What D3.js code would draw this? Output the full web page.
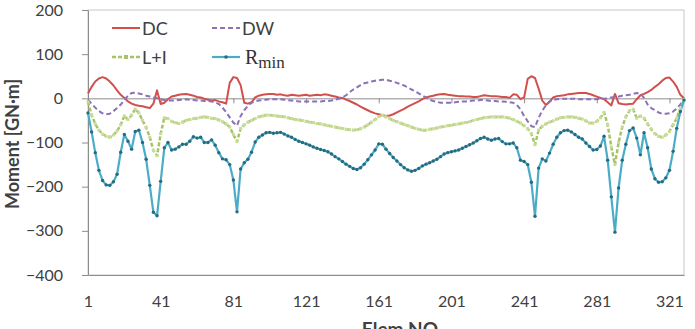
<!DOCTYPE html>
<html>
<head>
<meta charset="utf-8">
<script src="https://cdn.jsdelivr.net/npm/d3@7"></script>
<style>
    body { margin: 0; background: #fff; }
    svg text { font-family: Lato, "Open Sans", sans-serif; fill: #404040; }
</style>
</head>
<body>
<div id="chart"></div>
<script>
// element numbers (every second element is plotted)
var elemNo = d3.range(1, 330, 2);
var xTicks = [1, 41, 81, 121, 161, 201, 241, 281, 321];
var yTicks = [-400, -300, -200, -100, 0, 100, 200];

// moments [GN·m]
var dc = [
    11, 26, 38, 45, 48, 45, 38, 29, 18, 8,
    1, -7, -12, -15, -17, -18, -20, -22, -12, 18,
    -13, -10, -2, 4, 6, 8, 9, 10, 8, 6,
    3, 2, -1, -3, -5, -4, -7, -9, -12, 35,
    48, 46, 30, -10, -12, -9, 2, 6, 8, 9,
    10, 10, 8, 9, 7, 6, 8, 7, 6, 7,
    8, 6, 7, 8, 7, 9, 8, 6, 4, 2,
    1, -3, -6, -10, -14, -19, -23, -27, -31, -34,
    -36, -38, -40, -39, -36, -32, -28, -24, -19, -15,
    -11, -7, -2, 2, 4, 6, 8, 9, 10, 8,
    7, 6, 5, 5, 4, 4, 3, 3, 5, 7,
    6, 5, 5, 4, 3, 3, 1, 9, 8, -2,
    2, 44, 50, 46, 22, -5, -15, -8, 2, 5,
    6, 7, 9, 10, 11, 12, 12, 12, 10, 7,
    4, 1, -2, -9, -16, 10, -11, -13, -14, -13,
    -12, -2, 7, 10, 14, 19, 26, 32, 40, 46,
    47, 38, 26, 8, 0
];

var dw = [
    -3, -12, -21, -29, -34, -36, -35, -29, -22, -14,
    -4, 6, 12, 13, 11, 9, 6, 4, 2, 0,
    -2, -4, -5, -5, -5, -4, -3, -2, -3, -4,
    -5, -5, -6, -6, -7, -9, -13, -21, -31, -43,
    -55, -62, -40, -27, -17, -10, -7, -5, -4, -3,
    -2, -2, -2, -2, -3, -4, -5, -6, -7, -7,
    -7, -7, -7, -7, -7, -6, -6, -5, -3, -1,
    2, 7, 14, 20, 25, 30, 34, 36, 38, 40,
    41, 42, 42, 40, 38, 35, 32, 29, 25, 20,
    16, 11, 6, 2, -3, -6, -8, -10, -10, -10,
    -10, -9, -8, -7, -7, -6, -5, -5, -4, -4,
    -5, -6, -6, -7, -7, -8, -9, -10, -15, -25,
    -40, -52, -63, -65, -44, -28, -16, -7, -4, -2,
    -1, -1, -1, -1, -1, -2, -2, -2, -2, -2,
    -2, -1, -1, 0, 2, 3, 4, 6, 7, 8,
    10, 12, 11, 1, -14, -22, -27, -32, -35, -35,
    -34, -30, -23, -14, -2
];

var li = [
    -8, -38, -58, -72, -81, -86, -88, -83, -74, -60,
    -40, -48, -38, -24, -33, -50, -66, -88, -118, -130,
    -80, -44, -46, -52, -55, -57, -54, -50, -48, -46,
    -45, -43, -42, -43, -45, -46, -49, -53, -58, -65,
    -82, -98, -68, -60, -54, -50, -46, -42, -40, -38,
    -38, -39, -40, -41, -42, -44, -46, -48, -49, -50,
    -52, -54, -55, -57, -58, -60, -62, -63, -65, -67,
    -68, -70, -71, -72, -71, -69, -65, -60, -54, -48,
    -41, -38, -42, -46, -50, -53, -56, -59, -62, -65,
    -68, -70, -72, -72, -70, -69, -67, -65, -64, -62,
    -61, -59, -58, -56, -55, -53, -50, -48, -46, -44,
    -43, -42, -42, -42, -42, -43, -45, -48, -52, -56,
    -62, -69, -80, -105, -72, -63, -58, -54, -51, -47,
    -44, -43, -42, -42, -43, -45, -47, -51, -56, -56,
    -52, -44, -32, -60, -110, -150, -100, -65, -42, -28,
    -25, -45, -40, -45, -58, -70, -80, -86, -88, -83,
    -75, -60, -45, -22, -3
];

var rmin = [
    -33, -76, -123, -163, -186, -196, -197, -189, -172, -122,
    -82, -97, -115, -75, -72, -100, -138, -197, -258, -266,
    -188, -112, -100, -117, -115, -110, -104, -104, -97, -87,
    -90, -88, -100, -100, -94, -106, -123, -137, -139, -150,
    -185, -257, -160, -146, -138, -122, -99, -88, -83, -78,
    -77, -79, -78, -77, -81, -85, -88, -93, -97, -100,
    -103, -106, -110, -113, -116, -118, -121, -126, -132, -137,
    -143, -149, -154, -159, -161, -157, -149, -139, -128, -117,
    -103, -104, -115, -125, -134, -142, -150, -157, -162, -165,
    -163, -159, -153, -149, -146, -142, -138, -132, -126, -123,
    -121, -119, -117, -113, -109, -105, -101, -96, -91, -88,
    -92, -95, -92, -91, -98, -103, -103, -101, -112, -140,
    -143, -150, -190, -267, -158, -137, -142, -124, -104, -88,
    -78, -73, -72, -76, -82, -88, -92, -101, -109, -117,
    -116, -108, -86, -140, -223, -303, -203, -140, -104, -73,
    -67, -90, -128, -78, -112, -160, -182, -190, -189, -180,
    -163, -120, -68, -30, -4
];

var svg = d3.select('#chart').append('svg')
    .attr('width', 695)
    .attr('height', 329);

var x = d3.scaleLinear().domain([1, 329]).range([88, 684]);
var y = d3.scaleLinear().domain([-400, 200]).range([275, 10]);

// plot area border
svg.append('rect')
    .attr('x', x(1)).attr('y', y(200))
    .attr('width', x(329) - x(1)).attr('height', y(-400) - y(200))
    .attr('fill', 'none')
    .attr('stroke', '#c8c8c8');

// y axis
var yAxis = svg.append('g')
    .attr('transform', 'translate(' + x(1) + ',0)')
    .call(d3.axisLeft(y).tickValues(yTicks).tickSize(6).tickSizeOuter(0).tickPadding(19));
yAxis.selectAll('text').style('font-size', '16px');

// category labels along the bottom
var xLab = svg.append('g')
    .attr('transform', 'translate(0,' + y(-400) + ')')
    .call(d3.axisBottom(x).tickValues(xTicks).tickSize(0).tickPadding(21));
xLab.selectAll('text').style('font-size', '16px');

// axis line through zero with tick marks
svg.append('g')
    .attr('transform', 'translate(0,' + y(0) + ')')
    .call(d3.axisBottom(x).tickValues(xTicks).tickSize(5).tickSizeOuter(0).tickFormat(''));

svg.selectAll('.domain, .tick line').attr('stroke', '#8c8c8c');

// axis titles
svg.append('text')
    .attr('transform', 'translate(19,144) rotate(-90)')
    .attr('text-anchor', 'middle')
    .style('font-size', '18px')
    .style('font-weight', 'bold')
    .text('Moment [GN·m]');

svg.append('text')
    .attr('x', 402).attr('y', 336)
    .attr('text-anchor', 'middle')
    .style('font-size', '19px')
    .style('font-weight', 'bold')
    .text('Elem NO.');

var line = d3.line()
    .x(function(d, i) { return x(elemNo[i]); })
    .y(function(d) { return y(d); });

var series = [
    { name: 'DC', values: dc, color: '#d24f4c', dash: null, width: 2 },
    { name: 'DW', values: dw, color: '#8a72b6', dash: '5,3', width: 2 },
    { name: 'L+I', values: li, color: '#a6c466', dash: '4,2', width: 2.5 },
    { name: 'Rmin', values: rmin, color: '#4bacc6', dash: null, width: 2.2 }
];

series.forEach(function(s) {
    svg.append('path')
        .datum(s.values)
        .attr('fill', 'none')
        .attr('stroke', s.color)
        .attr('stroke-width', s.width)
        .attr('stroke-dasharray', s.dash)
        .attr('stroke-linejoin', 'round')
        .attr('d', line);
});

// markers
svg.append('g').selectAll('rect')
    .data(li)
    .enter().append('rect')
    .attr('x', function(d, i) { return x(elemNo[i]) - 1.5; })
    .attr('y', function(d) { return y(d) - 1.5; })
    .attr('width', 3).attr('height', 3)
    .attr('fill', '#c9dc9a');

svg.append('g').selectAll('circle')
    .data(rmin)
    .enter().append('circle')
    .attr('cx', function(d, i) { return x(elemNo[i]); })
    .attr('cy', function(d) { return y(d); })
    .attr('r', 1.7)
    .attr('fill', '#276b80');

// legend
var legend = svg.append('g');
var legPos = [[112, 28], [212, 28], [112, 57], [212, 57]];
series.forEach(function(s, i) {
    var p = legPos[i];
    var g = legend.append('g').attr('transform', 'translate(' + p[0] + ',' + p[1] + ')');
    g.append('line')
        .attr('x1', 0).attr('x2', 28)
        .attr('stroke', s.color)
        .attr('stroke-width', s.width)
        .attr('stroke-dasharray', s.dash);
    if (s.name == 'L+I') {
        g.append('rect').attr('x', 12).attr('y', -2).attr('width', 4).attr('height', 4).attr('fill', '#a6c466');
    }
    if (s.name == 'Rmin') {
        g.append('circle').attr('cx', 14).attr('r', 1.8).attr('fill', '#276b80');
        var t = g.append('text').attr('x', 33).attr('y', 7)
            .style('font-family', '"Liberation Serif", "DejaVu Serif", serif')
            .style('fill', '#333')
            .style('font-size', '20px');
        t.append('tspan').text('R');
        t.append('tspan').attr('dy', 4).style('font-size', '17px').text('min');
    } else {
        g.append('text').attr('x', 30).attr('y', 7)
            .style('font-size', '18px')
            .text(s.name);
    }
});
</script>
</body>
</html>
